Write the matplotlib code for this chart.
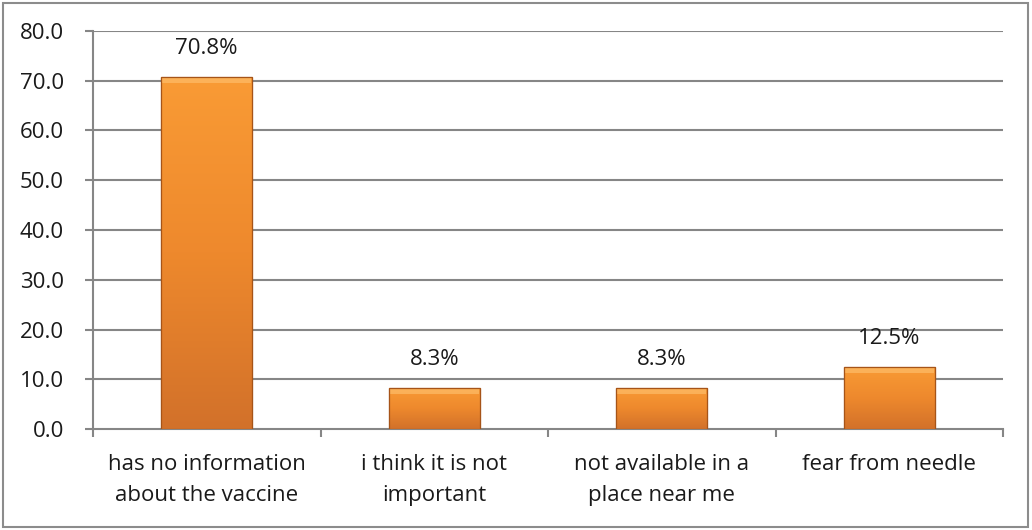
import matplotlib
matplotlib.use("Agg")
import matplotlib.pyplot as plt
import numpy as np
from matplotlib.patches import Rectangle
from matplotlib.colors import LinearSegmentedColormap

categories = ["has no information\nabout the vaccine", "i think it is not\nimportant",
              "not available in a\nplace near me", "fear from needle"]
values = [70.8, 8.3, 8.3, 12.5]
value_labels = ["70.8%", "8.3%", "8.3%", "12.5%"]
y_ticks = [0, 10, 20, 30, 40, 50, 60, 70, 80]

plt.rcParams['font.family'] = ['Open Sans', 'DejaVu Sans']

fig = plt.figure(figsize=(10.32, 5.30), dpi=100)
ax = fig.add_axes([93/1032, 101/530, 910/1032, 398/530])

grid_col = "#868686"
x = np.arange(len(categories))
bar_w = 0.4
ax.set_xlim(-0.5, len(categories) - 0.5)
ax.set_ylim(0, 80)

for yt in y_ticks[1:]:
    ax.axhline(yt, color=grid_col, lw=1.5, zorder=1)

cmap = LinearSegmentedColormap.from_list("orng", ["#D2712A", "#EE892D", "#F99B35"])
bars = ax.bar(x, values, width=bar_w, color="#F59431", edgecolor="#B0581C", lw=0.8, zorder=2)
for b in bars:
    x0, y0 = b.get_x(), b.get_y()
    w, h = b.get_width(), b.get_height()
    grad = np.linspace(0, 1, 256).reshape(-1, 1)
    im = ax.imshow(grad, cmap=cmap, aspect="auto", origin="lower",
                   extent=[x0, x0 + w, y0, y0 + h], zorder=3)
    im.set_clip_path(b)
    # bevel highlight along the top edge
    ax.add_patch(Rectangle((x0 + 0.005, y0 + h - 1.2), w - 0.01, 1.0,
                           facecolor="#FFC373", edgecolor="none", alpha=0.6, zorder=4))
    ax.add_patch(Rectangle((x0, y0), w, h, facecolor="none",
                           edgecolor="#A65418", lw=0.9, zorder=5))

for xi, v, lab in zip(x, values, value_labels):
    ax.text(xi, v + 5.6, lab, ha="center", va="center", fontsize=16, color="#1a1a1a", zorder=6)

ax.set_yticks(y_ticks)
ax.set_yticklabels([f"{t:.1f}" for t in y_ticks], fontsize=16, color="#1a1a1a")
ax.set_xticks(x)
ax.set_xticklabels(categories, fontsize=16, color="#1a1a1a", linespacing=1.6)
ax.set_xticks(np.arange(-0.5, len(categories)), minor=True)
ax.tick_params(axis="x", which="major", length=0, pad=18)
ax.tick_params(axis="x", which="minor", length=6, width=1.5, color=grid_col)
ax.tick_params(axis="y", length=6, width=1.5, color=grid_col, pad=15)

for s in ["top", "right"]:
    ax.spines[s].set_visible(False)
for s in ["left", "bottom"]:
    ax.spines[s].set_color(grid_col)
    ax.spines[s].set_linewidth(1.5)

fig.patches.append(Rectangle((3/1032, 3/530), 1025/1032, 524/530, transform=fig.transFigure,
                             facecolor="none", edgecolor="#8c8c8c", lw=1.5))

fig.savefig("out.png", dpi=100)
